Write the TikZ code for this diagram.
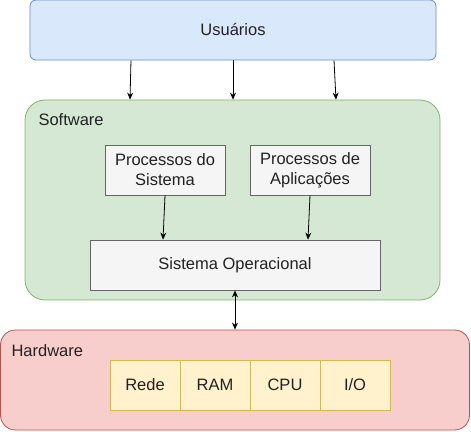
\documentclass[tikz,border=0pt]{standalone}
\usepackage{fontspec}
\setmainfont{Liberation Sans}
\usetikzlibrary{arrows.meta}
\definecolor{usrfill}{HTML}{DAE8FC}
\definecolor{usrline}{HTML}{6C8EBF}
\definecolor{swfill}{HTML}{D5E8D4}
\definecolor{swline}{HTML}{82B366}
\definecolor{hwfill}{HTML}{F8CECC}
\definecolor{hwline}{HTML}{B85450}
\definecolor{procfill}{HTML}{F5F5F5}
\definecolor{procline}{HTML}{666666}
\definecolor{cellfill}{HTML}{FFF2CC}
\definecolor{cellline}{HTML}{D6B656}
\definecolor{txt}{HTML}{222222}

\begin{document}
\begin{tikzpicture}[x=1pt,y=1pt,
  font=\fontsize{16.5}{20}\selectfont, text=txt,
  layer/.style={draw, line width=0.8pt, inner sep=0pt},
  procbox/.style={draw=procline, fill=procfill, line width=0.8pt,
    minimum width=120pt, minimum height=50pt, align=center, inner sep=0pt},
  cell/.style={draw=cellline, fill=cellfill, line width=0.8pt,
    minimum width=70pt, minimum height=50pt, inner sep=0pt},
  arr/.style={-{Stealth[length=7pt,width=6pt]}, line width=0.8pt},
  biarr/.style={{Stealth[length=7pt,width=6pt]}-{Stealth[length=7pt,width=6pt]}, line width=0.8pt}]
\useasboundingbox (0,0) rectangle (471,431);

\node[layer, draw=usrline, fill=usrfill, rounded corners=6pt,
  minimum width=406pt, minimum height=60pt] (users) at (233,401) {Usuários};

\node[layer, draw=swline, fill=swfill, rounded corners=20pt,
  minimum width=415pt, minimum height=200pt] (software) at (232.5,231) {};
\node[anchor=west] (swlabel) at (35,311) {Software};

\node[procbox] (sysproc) at (165,261) {Processos do\\Sistema};
\node[procbox] (appproc) at (310,261) {Processos de\\Aplicações};
\node[procbox, minimum width=290pt] (os) at (235,166) {Sistema Operacional};

\node[layer, draw=hwline, fill=hwfill, rounded corners=15pt,
  minimum width=469pt, minimum height=100pt] (hardware) at (235,51) {};
\node[anchor=west] (hwlabel) at (8,80) {Hardware};

\node[cell] (net) at (145,46) {Rede};
\node[cell] (ram) at (215,46) {RAM};
\node[cell] (cpu) at (285,46) {CPU};
\node[cell] (io) at (355,46) {I/O};

\draw[arr] ([xshift=-102pt]users.south) -- ([xshift=-102.5pt]software.north);
\draw[arr] (users.south) -- ([xshift=0.5pt]software.north);
\draw[arr] ([xshift=101pt]users.south) -- ([xshift=103.5pt]software.north);

\draw[arr] (sysproc.south) -- ([xshift=-72pt]os.north);
\draw[arr] (appproc.south) -- ([xshift=73pt]os.north);

\draw[biarr] (os.south) -- (hardware.north);
\end{tikzpicture}
\end{document}
